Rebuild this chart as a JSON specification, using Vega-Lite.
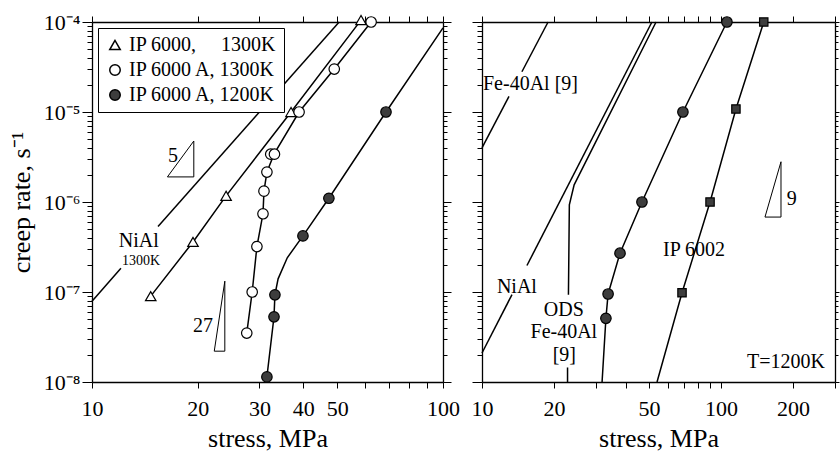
{
  "$schema": "https://vega.github.io/schema/vega-lite/v6.json",
  "background": "white",
  "padding": {"left": 8, "top": 11, "right": 2, "bottom": 0},
  "spacing": 39,
  "bounds": "flush",
  "config": {
    "font": "Liberation Serif",
    "view": {"stroke": null},
    "axis": {"domainColor": "black", "domainWidth": 1.3, "tickColor": "black", "tickWidth": 1, "grid": false,
      "labelFont": "Liberation Serif", "titleFont": "Liberation Serif", "labelColor": "black", "titleColor": "black",
      "titleFontWeight": "normal", "labelFontSize": 22, "titleFontSize": 26, "labelOverlap": false, "labelFlush": false}
  },
  "datasets": {
    "pts_left": [
      {"series": "IP 6000,\u00a0\u00a0\u00a0\u00a0\u00a01300K", "s": 14.7, "r": 9.0e-8},
      {"series": "IP 6000,\u00a0\u00a0\u00a0\u00a0\u00a01300K", "s": 19.4, "r": 3.6e-7},
      {"series": "IP 6000,\u00a0\u00a0\u00a0\u00a0\u00a01300K", "s": 24.1, "r": 1.17e-6},
      {"series": "IP 6000,\u00a0\u00a0\u00a0\u00a0\u00a01300K", "s": 36.9, "r": 1.0e-5},
      {"series": "IP 6000,\u00a0\u00a0\u00a0\u00a0\u00a01300K", "s": 58.4, "r": 1.05e-4},
      {"series": "IP 6000 A, 1300K", "s": 27.6, "r": 3.5e-8},
      {"series": "IP 6000 A, 1300K", "s": 28.6, "r": 1.0e-7},
      {"series": "IP 6000 A, 1300K", "s": 29.5, "r": 3.2e-7},
      {"series": "IP 6000 A, 1300K", "s": 30.7, "r": 7.4e-7},
      {"series": "IP 6000 A, 1300K", "s": 30.9, "r": 1.32e-6},
      {"series": "IP 6000 A, 1300K", "s": 31.5, "r": 2.15e-6},
      {"series": "IP 6000 A, 1300K", "s": 32.3, "r": 3.4e-6},
      {"series": "IP 6000 A, 1300K", "s": 33.1, "r": 3.4e-6},
      {"series": "IP 6000 A, 1300K", "s": 38.9, "r": 1.0e-5},
      {"series": "IP 6000 A, 1300K", "s": 49.0, "r": 3.0e-5},
      {"series": "IP 6000 A, 1300K", "s": 62.4, "r": 1.0e-4},
      {"series": "IP 6000 A, 1200K", "s": 31.5, "r": 1.14e-8},
      {"series": "IP 6000 A, 1200K", "s": 33.0, "r": 5.3e-8},
      {"series": "IP 6000 A, 1200K", "s": 33.2, "r": 9.3e-8},
      {"series": "IP 6000 A, 1200K", "s": 39.9, "r": 4.2e-7},
      {"series": "IP 6000 A, 1200K", "s": 47.3, "r": 1.1e-6},
      {"series": "IP 6000 A, 1200K", "s": 68.8, "r": 1.0e-5}
    ],
    "lines_left": [
      {"id": "nial_a", "o": 1, "s": 10, "r": 7.9e-8},
      {"id": "nial_a", "o": 2, "s": 12.09, "r": 1.84e-7},
      {"id": "nial_b", "o": 1, "s": 15.42, "r": 5.33e-7},
      {"id": "nial_b", "o": 2, "s": 50.6, "r": 1.0e-4},
      {"id": "tri", "o": 1, "s": 14.7, "r": 9.0e-8},
      {"id": "tri", "o": 2, "s": 19.4, "r": 3.6e-7},
      {"id": "tri", "o": 3, "s": 24.1, "r": 1.17e-6},
      {"id": "tri", "o": 4, "s": 36.9, "r": 1.0e-5},
      {"id": "tri", "o": 5, "s": 58.4, "r": 1.05e-4},
      {"id": "oc", "o": 1, "s": 27.6, "r": 3.5e-8},
      {"id": "oc", "o": 2, "s": 28.6, "r": 1.0e-7},
      {"id": "oc", "o": 3, "s": 29.5, "r": 3.2e-7},
      {"id": "oc", "o": 4, "s": 30.7, "r": 7.4e-7},
      {"id": "oc", "o": 5, "s": 30.9, "r": 1.32e-6},
      {"id": "oc", "o": 6, "s": 31.5, "r": 2.15e-6},
      {"id": "oc", "o": 7, "s": 33.0, "r": 3.4e-6},
      {"id": "oc", "o": 8, "s": 38.9, "r": 1.0e-5},
      {"id": "oc", "o": 9, "s": 49.0, "r": 3.0e-5},
      {"id": "oc", "o": 10, "s": 62.4, "r": 1.0e-4},
      {"id": "fc", "o": 1, "s": 31.5, "r": 1.14e-8},
      {"id": "fc", "o": 2, "s": 33.0, "r": 5.3e-8},
      {"id": "fc", "o": 3, "s": 33.2, "r": 9.3e-8},
      {"id": "fc", "o": 4, "s": 33.9, "r": 1.4e-7},
      {"id": "fc", "o": 5, "s": 36.0, "r": 2.4e-7},
      {"id": "fc", "o": 6, "s": 39.9, "r": 4.2e-7},
      {"id": "fc", "o": 7, "s": 47.3, "r": 1.1e-6},
      {"id": "fc", "o": 8, "s": 68.8, "r": 1.0e-5},
      {"id": "fc", "o": 9, "s": 100, "r": 8.6e-5}
    ],
    "slope_left": [
      {"id": "t5", "o": 1, "s": 16.4, "r": 1.9e-6},
      {"id": "t5", "o": 2, "s": 19.5, "r": 1.9e-6},
      {"id": "t5", "o": 3, "s": 19.5, "r": 4.76e-6},
      {"id": "t5", "o": 4, "s": 16.4, "r": 1.9e-6},
      {"id": "t27", "o": 1, "s": 22.3, "r": 2.2e-8},
      {"id": "t27", "o": 2, "s": 23.9, "r": 2.2e-8},
      {"id": "t27", "o": 3, "s": 23.9, "r": 1.32e-7},
      {"id": "t27", "o": 4, "s": 22.3, "r": 2.2e-8}
    ],
    "text_left": [
      {"t": "5", "s": 17.0, "r": 3.24e-6, "k": "big"},
      {"t": "27", "s": 20.7, "r": 4.2e-8, "k": "big"},
      {"t": "NiAl", "s": 13.6, "r": 3.7e-7, "k": "big"},
      {"t": "1300K", "s": 13.8, "r": 2.2e-7, "k": "small"}
    ],
    "pts_right": [
      {"series": "IP 6000 A, 1200K", "s": 33.0, "r": 5.1e-8},
      {"series": "IP 6000 A, 1200K", "s": 33.7, "r": 9.5e-8},
      {"series": "IP 6000 A, 1200K", "s": 37.8, "r": 2.7e-7},
      {"series": "IP 6000 A, 1200K", "s": 46.7, "r": 1.0e-6},
      {"series": "IP 6000 A, 1200K", "s": 69.3, "r": 1.0e-5},
      {"series": "IP 6000 A, 1200K", "s": 105.9, "r": 1.0e-4},
      {"series": "IP 6002", "s": 68.7, "r": 9.8e-8},
      {"series": "IP 6002", "s": 90, "r": 1.0e-6},
      {"series": "IP 6002", "s": 115.5, "r": 1.08e-5},
      {"series": "IP 6002", "s": 151, "r": 1.0e-4}
    ],
    "lines_right": [
      {"id": "fe_a", "o": 1, "s": 10, "r": 4.0e-6},
      {"id": "fe_a", "o": 2, "s": 12.97, "r": 1.49e-5},
      {"id": "fe_b", "o": 1, "s": 14.69, "r": 2.8e-5},
      {"id": "fe_b", "o": 2, "s": 18.9, "r": 1.0e-4},
      {"id": "ni_a", "o": 1, "s": 10, "r": 2.1e-8},
      {"id": "ni_a", "o": 2, "s": 13.35, "r": 9.35e-8},
      {"id": "ni_b", "o": 1, "s": 15.42, "r": 1.97e-7},
      {"id": "ni_b", "o": 2, "s": 51.4, "r": 1.0e-4},
      {"id": "ods_a", "o": 1, "s": 22.8, "r": 1.0e-8},
      {"id": "ods_a", "o": 2, "s": 22.8, "r": 1.45e-8},
      {"id": "ods_b", "o": 1, "s": 23.0, "r": 9.3e-8},
      {"id": "ods_b", "o": 2, "s": 23.2, "r": 9.3e-7},
      {"id": "ods_b", "o": 3, "s": 24.3, "r": 1.55e-6},
      {"id": "ods_b", "o": 4, "s": 53.5, "r": 1.0e-4},
      {"id": "fc", "o": 1, "s": 31.8, "r": 1.0e-8},
      {"id": "fc", "o": 2, "s": 33.0, "r": 5.1e-8},
      {"id": "fc", "o": 3, "s": 33.7, "r": 9.5e-8},
      {"id": "fc", "o": 4, "s": 37.8, "r": 2.7e-7},
      {"id": "fc", "o": 5, "s": 46.7, "r": 1.0e-6},
      {"id": "fc", "o": 6, "s": 69.3, "r": 1.0e-5},
      {"id": "fc", "o": 7, "s": 105.9, "r": 1.0e-4},
      {"id": "sq", "o": 1, "s": 54, "r": 1.0e-8},
      {"id": "sq", "o": 2, "s": 68.7, "r": 9.8e-8},
      {"id": "sq", "o": 3, "s": 90, "r": 1.0e-6},
      {"id": "sq", "o": 4, "s": 115.5, "r": 1.08e-5},
      {"id": "sq", "o": 5, "s": 151, "r": 1.0e-4}
    ],
    "slope_right": [
      {"id": "t9", "o": 1, "s": 152.8, "r": 6.8e-7},
      {"id": "t9", "o": 2, "s": 178.3, "r": 6.8e-7},
      {"id": "t9", "o": 3, "s": 178.3, "r": 2.8e-6},
      {"id": "t9", "o": 4, "s": 152.8, "r": 6.8e-7}
    ],
    "text_right": [
      {"t": "Fe-40Al [9]", "s": 15.95, "r": 2.05e-5},
      {"t": "NiAl", "s": 14.0, "r": 1.14e-7},
      {"t": "ODS", "s": 22.0, "r": 6.3e-8},
      {"t": "Fe-40Al", "s": 22.0, "r": 3.6e-8},
      {"t": "[9]", "s": 22.1, "r": 2.0e-8},
      {"t": "IP 6002", "s": 77.1, "r": 2.93e-7},
      {"t": "9", "s": 198, "r": 1.08e-6},
      {"t": "T=1200K", "s": 187, "r": 1.67e-8}
    ]
  },
  "hconcat": [
    {
      "width": 351,
      "height": 360,
      "resolve": {"axis": {"x": "independent", "y": "independent"}},
      "layer": [
        {
          "data": {"name": "lines_left"},
          "mark": {"type": "line", "color": "black", "strokeWidth": 1.5},
          "encoding": {
            "x": {"field": "s", "type": "quantitative", "scale": {"type": "log", "domain": [10, 100], "nice": false},
              "axis": {"orient": "bottom", "values": [10, 20, 30, 40, 50, 60, 70, 80, 90, 100],
                "labelExpr": "indexof([10, 20, 30, 40, 50, 100], datum.value) >= 0 ? '' + datum.value : ''",
                "title": "stress, MPa", "tickSize": 6, "labelPadding": 10, "titlePadding": 6}},
            "y": {"field": "r", "type": "quantitative", "scale": {"type": "log", "domain": [1e-8, 1e-4], "nice": false},
              "axis": {"orient": "left",
                "values": [1e-8, 2e-8, 3e-8, 4e-8, 5e-8, 6e-8, 7e-8, 8e-8, 9e-8, 1e-7, 2e-7, 3e-7, 4e-7, 5e-7, 6e-7, 7e-7, 8e-7, 9e-7, 1e-6, 2e-6, 3e-6, 4e-6, 5e-6, 6e-6, 7e-6, 8e-6, 9e-6, 1e-5, 2e-5, 3e-5, 4e-5, 5e-5, 6e-5, 7e-5, 8e-5, 9e-5, 1e-4],
                "labelExpr": "abs(log(datum.value)/LN10 - round(log(datum.value)/LN10)) < 0.01 ? '10⁻' + ['⁰','¹','²','³','⁴','⁵','⁶','⁷','⁸','⁹'][-round(log(datum.value)/LN10)] : ''",
                "tickSize": {"condition": {"test": "abs(log(datum.value)/LN10 - round(log(datum.value)/LN10)) < 0.01", "value": 10}, "value": 5},
                "labelPadding": 2, "title": "creep rate, s⁻¹", "titlePadding": 9}},
            "detail": {"field": "id"},
            "order": {"field": "o"}
          }
        },
        {
          "data": {"name": "slope_left"},
          "mark": {"type": "line", "color": "black", "strokeWidth": 1},
          "encoding": {
            "x": {"field": "s", "type": "quantitative", "scale": {"type": "log", "domain": [10, 100], "nice": false},
              "axis": {"orient": "top", "values": [10, 20, 30, 40, 50, 60, 70, 80, 90, 100], "labels": false, "title": null, "tickSize": 6}},
            "y": {"field": "r", "type": "quantitative", "scale": {"type": "log", "domain": [1e-8, 1e-4], "nice": false},
              "axis": {"orient": "right",
                "values": [1e-8, 2e-8, 3e-8, 4e-8, 5e-8, 6e-8, 7e-8, 8e-8, 9e-8, 1e-7, 2e-7, 3e-7, 4e-7, 5e-7, 6e-7, 7e-7, 8e-7, 9e-7, 1e-6, 2e-6, 3e-6, 4e-6, 5e-6, 6e-6, 7e-6, 8e-6, 9e-6, 1e-5, 2e-5, 3e-5, 4e-5, 5e-5, 6e-5, 7e-5, 8e-5, 9e-5, 1e-4],
                "labels": false, "title": null,
                "tickSize": {"condition": {"test": "abs(log(datum.value)/LN10 - round(log(datum.value)/LN10)) < 0.01", "value": 8}, "value": 4}}},
            "detail": {"field": "id"},
            "order": {"field": "o"}
          }
        },
        {
          "data": {"name": "pts_left"},
          "mark": {"type": "point", "filled": true, "stroke": "black", "strokeWidth": 1.2, "size": 110, "opacity": 1},
          "encoding": {
            "x": {"field": "s", "type": "quantitative", "axis": null},
            "y": {"field": "r", "type": "quantitative", "axis": null},
            "shape": {"field": "series", "type": "nominal",
              "scale": {"domain": ["IP 6000,\u00a0\u00a0\u00a0\u00a0\u00a01300K", "IP 6000 A, 1300K", "IP 6000 A, 1200K"], "range": ["triangle-up", "circle", "circle"]},
              "legend": {"orient": "top-left", "title": null, "strokeColor": "black", "fillColor": "white", "padding": 7, "offset": 6,
                "labelFont": "Liberation Serif", "labelFontSize": 20, "labelColor": "black", "symbolSize": 110, "rowPadding": 5,
                "encode": {"symbols": {"update": {"stroke": {"value": "black"}, "strokeWidth": {"value": 1.2}}}}}},
            "fill": {"field": "series", "type": "nominal",
              "scale": {"domain": ["IP 6000,\u00a0\u00a0\u00a0\u00a0\u00a01300K", "IP 6000 A, 1300K", "IP 6000 A, 1200K"], "range": ["white", "white", "#3d3d3d"]},
              "legend": {"orient": "top-left", "title": null, "strokeColor": "black", "fillColor": "white", "padding": 7, "offset": 6,
                "labelFont": "Liberation Serif", "labelFontSize": 20, "labelColor": "black", "symbolSize": 110, "rowPadding": 5,
                "encode": {"symbols": {"update": {"stroke": {"value": "black"}, "strokeWidth": {"value": 1.2}}}}}}
          }
        },
        {
          "data": {"name": "text_left"},
          "transform": [{"filter": "datum.k == 'big'"}],
          "mark": {"type": "text", "font": "Liberation Serif", "fontSize": 20, "color": "black", "align": "center", "baseline": "middle"},
          "encoding": {
            "x": {"field": "s", "type": "quantitative", "axis": null},
            "y": {"field": "r", "type": "quantitative", "axis": null},
            "text": {"field": "t"}
          }
        },
        {
          "data": {"name": "text_left"},
          "transform": [{"filter": "datum.k == 'small'"}],
          "mark": {"type": "text", "font": "Liberation Serif", "fontSize": 14, "color": "black", "align": "center", "baseline": "middle"},
          "encoding": {
            "x": {"field": "s", "type": "quantitative", "axis": null},
            "y": {"field": "r", "type": "quantitative", "axis": null},
            "text": {"field": "t"}
          }
        }
      ]
    },
    {
      "width": 353,
      "height": 360,
      "resolve": {"axis": {"x": "independent", "y": "independent"}},
      "layer": [
        {
          "data": {"name": "lines_right"},
          "mark": {"type": "line", "color": "black", "strokeWidth": 1.5},
          "encoding": {
            "x": {"field": "s", "type": "quantitative", "scale": {"type": "log", "domain": [10, 300], "nice": false},
              "axis": {"orient": "bottom", "values": [10, 20, 30, 40, 50, 60, 70, 80, 90, 100, 200, 300],
                "labelExpr": "indexof([10, 20, 50, 100, 200], datum.value) >= 0 ? '' + datum.value : ''",
                "title": "stress, MPa", "tickSize": 6, "labelPadding": 10, "titlePadding": 6}},
            "y": {"field": "r", "type": "quantitative", "scale": {"type": "log", "domain": [1e-8, 1e-4], "nice": false},
              "axis": {"orient": "left",
                "values": [1e-8, 2e-8, 3e-8, 4e-8, 5e-8, 6e-8, 7e-8, 8e-8, 9e-8, 1e-7, 2e-7, 3e-7, 4e-7, 5e-7, 6e-7, 7e-7, 8e-7, 9e-7, 1e-6, 2e-6, 3e-6, 4e-6, 5e-6, 6e-6, 7e-6, 8e-6, 9e-6, 1e-5, 2e-5, 3e-5, 4e-5, 5e-5, 6e-5, 7e-5, 8e-5, 9e-5, 1e-4],
                "labels": false, "title": null,
                "tickSize": {"condition": {"test": "abs(log(datum.value)/LN10 - round(log(datum.value)/LN10)) < 0.01", "value": 10}, "value": 5}}},
            "detail": {"field": "id"},
            "order": {"field": "o"}
          }
        },
        {
          "data": {"name": "slope_right"},
          "mark": {"type": "line", "color": "black", "strokeWidth": 1},
          "encoding": {
            "x": {"field": "s", "type": "quantitative", "scale": {"type": "log", "domain": [10, 300], "nice": false},
              "axis": {"orient": "top", "values": [10, 20, 30, 40, 50, 60, 70, 80, 90, 100, 200, 300], "labels": false, "title": null, "tickSize": 6}},
            "y": {"field": "r", "type": "quantitative", "scale": {"type": "log", "domain": [1e-8, 1e-4], "nice": false},
              "axis": {"orient": "right",
                "values": [1e-8, 2e-8, 3e-8, 4e-8, 5e-8, 6e-8, 7e-8, 8e-8, 9e-8, 1e-7, 2e-7, 3e-7, 4e-7, 5e-7, 6e-7, 7e-7, 8e-7, 9e-7, 1e-6, 2e-6, 3e-6, 4e-6, 5e-6, 6e-6, 7e-6, 8e-6, 9e-6, 1e-5, 2e-5, 3e-5, 4e-5, 5e-5, 6e-5, 7e-5, 8e-5, 9e-5, 1e-4],
                "labels": false, "title": null,
                "tickSize": {"condition": {"test": "abs(log(datum.value)/LN10 - round(log(datum.value)/LN10)) < 0.01", "value": 4}, "value": 3}}},
            "detail": {"field": "id"},
            "order": {"field": "o"}
          }
        },
        {
          "data": {"name": "pts_right"},
          "transform": [{"filter": "datum.series == 'IP 6000 A, 1200K'"}],
          "mark": {"type": "point", "shape": "circle", "filled": true, "fill": "#3d3d3d", "stroke": "black", "strokeWidth": 1.2, "size": 110, "opacity": 1},
          "encoding": {
            "x": {"field": "s", "type": "quantitative", "axis": null},
            "y": {"field": "r", "type": "quantitative", "axis": null}
          }
        },
        {
          "data": {"name": "pts_right"},
          "transform": [{"filter": "datum.series == 'IP 6002'"}],
          "mark": {"type": "point", "shape": "square", "filled": true, "fill": "#3d3d3d", "stroke": "black", "strokeWidth": 1.2, "size": 70, "opacity": 1},
          "encoding": {
            "x": {"field": "s", "type": "quantitative", "axis": null},
            "y": {"field": "r", "type": "quantitative", "axis": null}
          }
        },
        {
          "data": {"name": "text_right"},
          "mark": {"type": "text", "font": "Liberation Serif", "fontSize": 20, "color": "black", "align": "center", "baseline": "middle"},
          "encoding": {
            "x": {"field": "s", "type": "quantitative", "axis": null},
            "y": {"field": "r", "type": "quantitative", "axis": null},
            "text": {"field": "t"}
          }
        }
      ]
    }
  ]
}
